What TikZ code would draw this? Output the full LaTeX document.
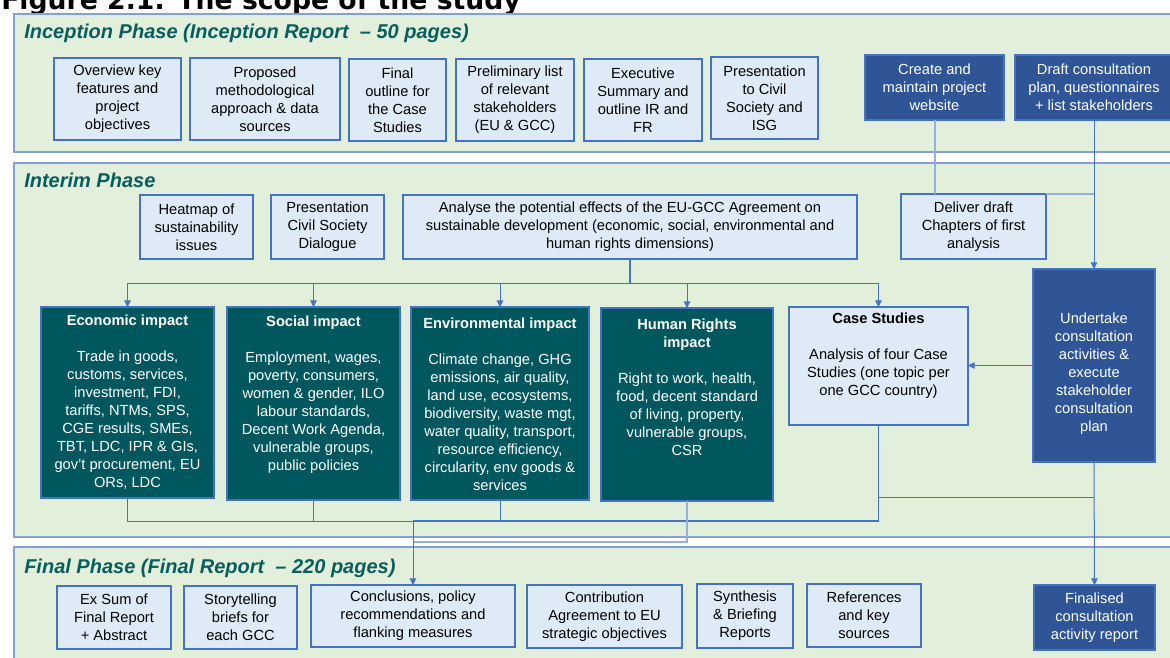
\documentclass[tikz,border=0pt]{standalone}
\usepackage{fontspec}
\setmainfont{Liberation Sans}
\newfontfamily\titlefont{DejaVu Sans}
\usetikzlibrary{arrows.meta}

\definecolor{bandfill}{RGB}{226,239,218}
\definecolor{bandline}{RGB}{132,160,212}
\definecolor{boxfill}{RGB}{222,235,247}
\definecolor{medblue}{RGB}{68,114,196}
\definecolor{lightline}{RGB}{150,176,222}
\definecolor{navy}{RGB}{47,85,151}
\definecolor{tealbox}{RGB}{0,88,94}
\definecolor{phasecol}{RGB}{8,94,94}

% box from corner (x1,y1) to (x2,y2), in pixel units
\newcommand\flowbox[7]{%
  \node[#6, minimum width={(#4-#2)*0.75pt}, minimum height={(#5-#3)*0.75pt}]
    (#1) at ({(#2+#4)/2},{(#3+#5)/2}) {#7};}

\tikzset{
  txt/.style={font=\fontsize{11}{13.5}\selectfont, align=center, inner sep=0pt, outer sep=0pt},
  lbox/.style={txt, draw=medblue, fill=boxfill, line width=0.9pt, text=black},
  dbox/.style={txt, draw=medblue, fill=navy, line width=0.9pt, text=white},
  tbox/.style={txt, draw=medblue, fill=tealbox, line width=0.9pt},
  band/.style={fill=bandfill, draw=bandline, line width=1pt},
  phase/.style={font=\fontsize{15}{18}\selectfont\bfseries\itshape, text=phasecol, anchor=base west, inner sep=0pt},
  link/.style={draw=medblue, line width=0.75pt},
  softlink/.style={draw=lightline, line width=1.1pt},
  tip/.style={-{Triangle[length=5pt,width=5pt]}},
}

\begin{document}
\begin{tikzpicture}[x=0.75pt,y=-0.75pt]
\useasboundingbox (0,0) rectangle (1170,657);
\clip (0,0) rectangle (1170,657);

% figure caption (partly above the top edge)
\node[anchor=base west, inner sep=0pt, font=\titlefont\bfseries\fontsize{20}{24}\selectfont] (caption) at (1,9) {Figure 2.1: The scope of the study};

% phase bands
\path[band] (14,14) rectangle (1190,152);
\path[band] (14,163) rectangle (1190,537);
\path[band] (14,547) rectangle (1190,690);

\node[phase] (p1) at (24,38) {Inception Phase (Inception Report \ – 50 pages)};
\node[phase] (p2) at (24,187) {Interim Phase};
\node[phase] (p3) at (24,573) {Final Phase (Final Report \ – 220 pages)};

% inception phase
\flowbox{ov}{54}{58}{181}{140}{lbox}{Overview key\\features and\\project\\objectives}
\flowbox{meth}{190}{58}{340}{140}{lbox}{Proposed\\methodological\\approach \& data\\sources}
\flowbox{outl}{349}{59}{446}{141}{lbox}{Final\\outline for\\the Case\\Studies}
\flowbox{prel}{456}{59}{574}{141}{lbox}{Preliminary list\\of relevant\\stakeholders\\(EU \& GCC)}
\flowbox{exec}{584}{59}{702}{141}{lbox}{Executive\\Summary and\\outline IR and\\FR}
\flowbox{pres}{711}{57}{818}{139}{lbox}{Presentation\\to Civil\\Society and\\ISG}
\flowbox{web}{865}{55}{1004}{120}{dbox}{Create and\\maintain project\\website}
\flowbox{draft}{1015}{55}{1173}{120}{dbox}{Draft consultation\\plan, questionnaires\\+ list stakeholders}

% interim phase
\flowbox{heat}{140}{195}{253}{259}{lbox}{Heatmap of\\sustainability\\issues}
\flowbox{csd}{271}{195}{384}{259}{lbox}{Presentation\\Civil Society\\Dialogue}
\flowbox{anal}{403}{195}{857}{259}{lbox}{Analyse the potential effects of the EU-GCC Agreement on\\sustainable development (economic, social, environmental and\\human rights dimensions)}
\flowbox{deliv}{901}{194}{1046}{259}{lbox}{Deliver draft\\Chapters of first\\analysis}
\flowbox{under}{1033}{269}{1155}{462}{dbox}{}
\node[txt, text=white] (under-t) at (1094,374) {Undertake\\consultation\\activities \&\\execute\\stakeholder\\consultation\\plan};

\flowbox{econ}{41}{307}{214}{498}{tbox}{}
\flowbox{soc}{227}{307}{400}{500}{tbox}{}
\flowbox{env}{411}{307}{589}{500}{tbox}{}
\flowbox{hr}{601}{308}{773}{501}{tbox}{}
\flowbox{case}{789}{307}{968}{425}{lbox}{}

\node[txt, text=white] (econ-t) at (127.5,402) {\textbf{Economic impact}\\[13.5pt]Trade in goods,\\customs, services,\\investment, FDI,\\tariffs, NTMs, SPS,\\CGE results, SMEs,\\TBT, LDC, IPR \& GIs,\\gov't procurement, EU\\ORs, LDC};
\node[txt, text=white] (soc-t) at (313.5,394.5) {\textbf{Social impact}\\[13.5pt]Employment, wages,\\poverty, consumers,\\women \& gender, ILO\\labour standards,\\Decent Work Agenda,\\vulnerable groups,\\public policies};
\node[txt, text=white] (env-t) at (500,404.5) {\textbf{Environmental impact}\\[13.5pt]Climate change, GHG\\emissions, air quality,\\land use, ecosystems,\\biodiversity, waste mgt,\\water quality, transport,\\resource efficiency,\\circularity, env goods \&\\services};
\node[txt, text=white] (hr-t) at (687,387.5) {\textbf{Human Rights}\\\textbf{impact}\\[13.5pt]Right to work, health,\\food, decent standard\\of living, property,\\vulnerable groups,\\CSR};
\node[txt, text=black] (case-t) at (878.5,356) {\textbf{Case Studies}\\[13.5pt]Analysis of four Case\\Studies (one topic per\\one GCC country)};

% final phase
\flowbox{exsum}{57}{586}{171}{649}{lbox}{Ex Sum of\\Final Report\\+ Abstract}
\flowbox{story}{184}{586}{297}{649}{lbox}{Storytelling\\briefs for\\each GCC}
\flowbox{concl}{311}{585}{515}{647}{lbox}{Conclusions, policy\\recommendations and\\flanking measures}
\flowbox{contr}{527}{585}{682}{648}{lbox}{Contribution\\Agreement to EU\\strategic objectives}
\flowbox{synth}{697}{584}{793}{648}{lbox}{Synthesis\\\& Briefing\\Reports}
\flowbox{refs}{807}{584}{921}{647}{lbox}{References\\and key\\sources}
\flowbox{final}{1034}{585}{1155}{650}{dbox}{Finalised\\consultation\\activity report}

% junction points
\coordinate (bus) at (630,283);
\coordinate (join) at (413,521);
\coordinate (low) at (413,542);
\coordinate (tap) at (1094,497);

% consultation stream
\draw[softlink, line width=1.5pt] (web.south) -- (web.south |- deliv.north);
\draw[softlink] (deliv.north east) -- (deliv.north east -| draft.south);
\draw[link, tip] (draft.south) -- (under.north);
\draw[link, tip] (under.west) -- (under.west -| case.east);

% distribution of the analysis to the impact areas
\draw[link, line width=1.5pt] (anal.south -| bus) -- (bus);
\draw[link] (econ.north |- bus) -- (case.north |- bus);
\foreach \n in {econ,soc,env,hr,case}
  \draw[link, tip] (\n.north |- bus) -- (\n.north);

% collection towards the final report
\draw[link] (econ.south) -- (econ.south |- join) -- (env.south |- join);
\draw[link] (soc.south) -- (soc.south |- join);
\draw[link] (env.south) -- (env.south |- join);
\draw[link, line width=1pt] (case.south) -- (case.south |- join) -- (join);
\draw[softlink] (hr.south) -- (hr.south |- low) -- (low);
\draw[link, tip] (join) -- (concl.north);
\draw[link] (case.south |- tap) -- (tap);
\draw[link, tip] (under.south) -- (final.north);
\end{tikzpicture}
\end{document}
